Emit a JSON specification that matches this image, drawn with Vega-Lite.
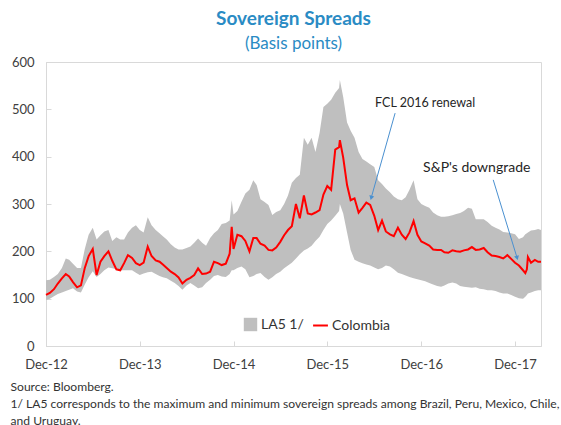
{
  "$schema": "https://vega.github.io/schema/vega-lite/v6.json",
  "width": 495,
  "height": 284,
  "autosize": {"type": "none"},
  "padding": {"left": 46, "top": 62, "right": 20, "bottom": 79},
  "background": "white",
  "config": {"font": "Lato", "view": {"stroke": "#D9D9D9", "strokeWidth": 1}},
  "title": {
    "text": "Sovereign Spreads",
    "subtitle": "(Basis points)",
    "anchor": "middle",
    "font": "Lato",
    "fontSize": 19,
    "fontWeight": "bold",
    "color": "#2A8BC4",
    "subtitleFont": "Lato",
    "subtitleFontSize": 17,
    "subtitleColor": "#2A8BC4",
    "offset": 4,
    "subtitlePadding": 7
  },
  "datasets": {
    "series": [
      {"date": "2012-12-01", "lo": 97, "hi": 139, "col": 108},
      {"date": "2012-12-16", "lo": 100, "hi": 140, "col": 112},
      {"date": "2013-01-01", "lo": 105, "hi": 146, "col": 120},
      {"date": "2013-01-16", "lo": 110, "hi": 152, "col": 132},
      {"date": "2013-02-01", "lo": 113, "hi": 165, "col": 143},
      {"date": "2013-02-16", "lo": 116, "hi": 185, "col": 152},
      {"date": "2013-03-01", "lo": 119, "hi": 182, "col": 147},
      {"date": "2013-03-16", "lo": 122, "hi": 174, "col": 135},
      {"date": "2013-04-01", "lo": 115, "hi": 165, "col": 124},
      {"date": "2013-04-16", "lo": 113, "hi": 165, "col": 128},
      {"date": "2013-05-01", "lo": 130, "hi": 205, "col": 165},
      {"date": "2013-05-16", "lo": 145, "hi": 235, "col": 190},
      {"date": "2013-06-01", "lo": 158, "hi": 250, "col": 205},
      {"date": "2013-06-16", "lo": 146, "hi": 225, "col": 150},
      {"date": "2013-07-01", "lo": 152, "hi": 234, "col": 178},
      {"date": "2013-07-16", "lo": 160, "hi": 242, "col": 190},
      {"date": "2013-08-01", "lo": 166, "hi": 245, "col": 200},
      {"date": "2013-08-16", "lo": 164, "hi": 222, "col": 180},
      {"date": "2013-09-01", "lo": 162, "hi": 230, "col": 162},
      {"date": "2013-09-16", "lo": 160, "hi": 225, "col": 160},
      {"date": "2013-10-01", "lo": 160, "hi": 225, "col": 175},
      {"date": "2013-10-16", "lo": 160, "hi": 240, "col": 192},
      {"date": "2013-11-01", "lo": 160, "hi": 250, "col": 186},
      {"date": "2013-11-16", "lo": 155, "hi": 255, "col": 175},
      {"date": "2013-12-01", "lo": 150, "hi": 245, "col": 171},
      {"date": "2013-12-16", "lo": 153, "hi": 240, "col": 176},
      {"date": "2014-01-01", "lo": 156, "hi": 272, "col": 210},
      {"date": "2014-01-16", "lo": 157, "hi": 255, "col": 190},
      {"date": "2014-02-01", "lo": 152, "hi": 245, "col": 181},
      {"date": "2014-02-16", "lo": 148, "hi": 238, "col": 178},
      {"date": "2014-03-01", "lo": 145, "hi": 232, "col": 172},
      {"date": "2014-03-16", "lo": 143, "hi": 225, "col": 165},
      {"date": "2014-04-01", "lo": 138, "hi": 215, "col": 157},
      {"date": "2014-04-16", "lo": 133, "hi": 208, "col": 152},
      {"date": "2014-05-01", "lo": 127, "hi": 204, "col": 145},
      {"date": "2014-05-16", "lo": 119, "hi": 204, "col": 132},
      {"date": "2014-06-01", "lo": 128, "hi": 207, "col": 140},
      {"date": "2014-06-16", "lo": 133, "hi": 210, "col": 144},
      {"date": "2014-07-01", "lo": 128, "hi": 218, "col": 150},
      {"date": "2014-07-16", "lo": 122, "hi": 227, "col": 164},
      {"date": "2014-08-01", "lo": 124, "hi": 218, "col": 152},
      {"date": "2014-08-16", "lo": 133, "hi": 212, "col": 153},
      {"date": "2014-09-01", "lo": 140, "hi": 228, "col": 157},
      {"date": "2014-09-16", "lo": 148, "hi": 238, "col": 178},
      {"date": "2014-10-01", "lo": 150, "hi": 245, "col": 175},
      {"date": "2014-10-16", "lo": 147, "hi": 258, "col": 171},
      {"date": "2014-11-01", "lo": 146, "hi": 260, "col": 174},
      {"date": "2014-11-16", "lo": 152, "hi": 265, "col": 195},
      {"date": "2014-11-24", "lo": 160, "hi": 308, "col": 252},
      {"date": "2014-12-01", "lo": 160, "hi": 278, "col": 205},
      {"date": "2014-12-16", "lo": 165, "hi": 285, "col": 235},
      {"date": "2015-01-01", "lo": 168, "hi": 305, "col": 232},
      {"date": "2015-01-16", "lo": 162, "hi": 322, "col": 222},
      {"date": "2015-02-01", "lo": 145, "hi": 330, "col": 200},
      {"date": "2015-02-16", "lo": 148, "hi": 350, "col": 228},
      {"date": "2015-03-01", "lo": 152, "hi": 340, "col": 228},
      {"date": "2015-03-16", "lo": 154, "hi": 310, "col": 216},
      {"date": "2015-04-01", "lo": 146, "hi": 304, "col": 212},
      {"date": "2015-04-16", "lo": 140, "hi": 298, "col": 203},
      {"date": "2015-05-01", "lo": 145, "hi": 277, "col": 202},
      {"date": "2015-05-16", "lo": 152, "hi": 283, "col": 208},
      {"date": "2015-06-01", "lo": 157, "hi": 287, "col": 220},
      {"date": "2015-06-16", "lo": 164, "hi": 300, "col": 234},
      {"date": "2015-07-01", "lo": 170, "hi": 318, "col": 245},
      {"date": "2015-07-16", "lo": 176, "hi": 345, "col": 253},
      {"date": "2015-08-01", "lo": 185, "hi": 355, "col": 300},
      {"date": "2015-08-16", "lo": 194, "hi": 362, "col": 270},
      {"date": "2015-09-01", "lo": 202, "hi": 440, "col": 318},
      {"date": "2015-09-16", "lo": 206, "hi": 425, "col": 280},
      {"date": "2015-10-01", "lo": 212, "hi": 440, "col": 278},
      {"date": "2015-10-16", "lo": 222, "hi": 410, "col": 282},
      {"date": "2015-11-01", "lo": 231, "hi": 450, "col": 287},
      {"date": "2015-11-16", "lo": 245, "hi": 505, "col": 320},
      {"date": "2015-12-01", "lo": 258, "hi": 512, "col": 338},
      {"date": "2015-12-16", "lo": 265, "hi": 520, "col": 330},
      {"date": "2016-01-01", "lo": 275, "hi": 535, "col": 415},
      {"date": "2016-01-16", "lo": 285, "hi": 545, "col": 420},
      {"date": "2016-01-19", "lo": 300, "hi": 562, "col": 435},
      {"date": "2016-02-01", "lo": 280, "hi": 526, "col": 398},
      {"date": "2016-02-16", "lo": 240, "hi": 472, "col": 340},
      {"date": "2016-03-01", "lo": 203, "hi": 455, "col": 308},
      {"date": "2016-03-16", "lo": 182, "hi": 440, "col": 312},
      {"date": "2016-04-01", "lo": 178, "hi": 410, "col": 282},
      {"date": "2016-04-16", "lo": 175, "hi": 395, "col": 292},
      {"date": "2016-05-01", "lo": 172, "hi": 390, "col": 303},
      {"date": "2016-05-16", "lo": 170, "hi": 384, "col": 298},
      {"date": "2016-06-01", "lo": 166, "hi": 378, "col": 275},
      {"date": "2016-06-16", "lo": 162, "hi": 350, "col": 245},
      {"date": "2016-07-01", "lo": 165, "hi": 342, "col": 265},
      {"date": "2016-07-16", "lo": 170, "hi": 333, "col": 242},
      {"date": "2016-08-01", "lo": 168, "hi": 325, "col": 236},
      {"date": "2016-08-16", "lo": 162, "hi": 316, "col": 232},
      {"date": "2016-09-01", "lo": 155, "hi": 310, "col": 250},
      {"date": "2016-09-16", "lo": 152, "hi": 308, "col": 235},
      {"date": "2016-10-01", "lo": 149, "hi": 314, "col": 226},
      {"date": "2016-10-16", "lo": 146, "hi": 330, "col": 240},
      {"date": "2016-11-01", "lo": 143, "hi": 350, "col": 264},
      {"date": "2016-11-16", "lo": 141, "hi": 310, "col": 235},
      {"date": "2016-12-01", "lo": 139, "hi": 300, "col": 221},
      {"date": "2016-12-16", "lo": 137, "hi": 296, "col": 217},
      {"date": "2017-01-01", "lo": 133, "hi": 292, "col": 212},
      {"date": "2017-01-16", "lo": 130, "hi": 282, "col": 204},
      {"date": "2017-02-01", "lo": 127, "hi": 276, "col": 203},
      {"date": "2017-02-16", "lo": 125, "hi": 273, "col": 203},
      {"date": "2017-03-01", "lo": 128, "hi": 273, "col": 198},
      {"date": "2017-03-16", "lo": 132, "hi": 274, "col": 197},
      {"date": "2017-04-01", "lo": 134, "hi": 276, "col": 202},
      {"date": "2017-04-16", "lo": 132, "hi": 279, "col": 200},
      {"date": "2017-05-01", "lo": 127, "hi": 281, "col": 199},
      {"date": "2017-05-16", "lo": 125, "hi": 285, "col": 202},
      {"date": "2017-06-01", "lo": 124, "hi": 292, "col": 204},
      {"date": "2017-06-16", "lo": 123, "hi": 290, "col": 209},
      {"date": "2017-07-01", "lo": 124, "hi": 268, "col": 203},
      {"date": "2017-07-16", "lo": 121, "hi": 268, "col": 204},
      {"date": "2017-08-01", "lo": 120, "hi": 268, "col": 207},
      {"date": "2017-08-16", "lo": 118, "hi": 262, "col": 198},
      {"date": "2017-09-01", "lo": 118, "hi": 254, "col": 191},
      {"date": "2017-09-16", "lo": 116, "hi": 250, "col": 190},
      {"date": "2017-10-01", "lo": 113, "hi": 246, "col": 188},
      {"date": "2017-10-16", "lo": 111, "hi": 241, "col": 185},
      {"date": "2017-11-01", "lo": 111, "hi": 240, "col": 192},
      {"date": "2017-11-16", "lo": 108, "hi": 238, "col": 184},
      {"date": "2017-12-01", "lo": 104, "hi": 236, "col": 176},
      {"date": "2017-12-16", "lo": 101, "hi": 226, "col": 170},
      {"date": "2018-01-01", "lo": 100, "hi": 230, "col": 160},
      {"date": "2018-01-10", "lo": 104, "hi": 236, "col": 154},
      {"date": "2018-01-16", "lo": 108, "hi": 238, "col": 162},
      {"date": "2018-01-20", "lo": 111, "hi": 240, "col": 188},
      {"date": "2018-02-01", "lo": 113, "hi": 244, "col": 176},
      {"date": "2018-02-16", "lo": 116, "hi": 245, "col": 182},
      {"date": "2018-03-01", "lo": 118, "hi": 247, "col": 178},
      {"date": "2018-03-12", "lo": 118, "hi": 245, "col": 178}
    ],
    "notes": [
      {"date": "2016-06-04", "value": 513, "label": "FCL 2016 renewal"},
      {"date": "2016-12-08", "value": 376, "label": "S&P's downgrade"}
    ],
    "arrows": [
      {"date": "2016-08-21", "value": 492, "date2": "2016-05-20", "value2": 313, "name": "FCL"},
      {"date": "2017-09-07", "value": 351, "date2": "2017-12-09", "value2": 186, "name": "SP"}
    ]
  },
  "layer": [
    {
      "data": {"name": "series"},
      "mark": {"type": "area", "opacity": 1},
      "encoding": {
        "x": {
          "field": "date",
          "type": "temporal",
          "scale": {"type": "utc", "domain": [{"year": 2012, "month": 12, "date": 1, "utc": true}, {"year": 2018, "month": 3, "date": 12, "utc": true}]},
          "axis": {
            "values": [
              {"year": 2012, "month": 12, "date": 1, "utc": true},
              {"year": 2013, "month": 12, "date": 1, "utc": true},
              {"year": 2014, "month": 12, "date": 1, "utc": true},
              {"year": 2015, "month": 12, "date": 1, "utc": true},
              {"year": 2016, "month": 12, "date": 1, "utc": true},
              {"year": 2017, "month": 12, "date": 1, "utc": true}
            ],
            "labelExpr": "utcFormat(datum.value, '%b-%y')",
            "labelFlush": false,
            "labelOverlap": false,
            "grid": false,
            "domainColor": "#D9D9D9",
            "tickColor": "#D9D9D9",
            "tickSize": -5,
            "labelPadding": 17,
            "labelFontSize": 13,
            "labelColor": "#404040",
            "labelFont": "Lato",
            "title": ["Source: Bloomberg.", "1/ LA5 corresponds to the maximum and minimum sovereign spreads among Brazil, Peru, Mexico, Chile,", "and Uruguay."],
            "titleFont": "Lato",
            "titleFontSize": 12.1,
            "titleFontWeight": "normal",
            "titleColor": "#333333",
            "titleAnchor": "start",
            "titleAlign": "left",
            "titleBaseline": "top",
            "titleX": -36,
            "titleY": 34,
            "titleLineHeight": 17.2
          }
        },
        "y": {
          "field": "hi",
          "type": "quantitative",
          "scale": {"domain": [0, 600]},
          "axis": {
            "values": [0, 100, 200, 300, 400, 500, 600],
            "grid": false,
            "domainColor": "#D9D9D9",
            "tickColor": "#D9D9D9",
            "tickSize": -5,
            "labelPadding": 17,
            "labelFontSize": 13,
            "labelColor": "#404040",
            "labelFont": "Lato",
            "title": null
          }
        },
        "y2": {"field": "lo"},
        "fill": {
          "datum": "LA5 1/",
          "type": "nominal",
          "scale": {"domain": ["LA5 1/"], "range": ["#BFBFBF"]},
          "legend": {
            "orient": "none",
            "legendX": 197,
            "legendY": 255,
            "title": null,
            "labelFont": "Lato",
            "labelFontSize": 14,
            "labelColor": "#333333",
            "symbolType": "square",
            "symbolSize": 180,
            "labelOffset": 3
          }
        }
      }
    },
    {
      "data": {"name": "series"},
      "mark": {"type": "line", "strokeWidth": 2},
      "encoding": {
        "x": {"field": "date", "type": "temporal"},
        "y": {"field": "col", "type": "quantitative"},
        "stroke": {
          "datum": "Colombia",
          "type": "nominal",
          "scale": {"domain": ["Colombia"], "range": ["#FF0000"]},
          "legend": {
            "orient": "none",
            "legendX": 266,
            "legendY": 255,
            "title": null,
            "labelFont": "Lato",
            "labelFontSize": 14,
            "labelColor": "#333333",
            "symbolType": "stroke",
            "symbolSize": 220,
            "symbolStrokeWidth": 2,
            "labelOffset": 3
          }
        }
      }
    },
    {
      "data": {"name": "arrows"},
      "mark": {"type": "rule", "color": "#4A90D0", "strokeWidth": 1},
      "encoding": {
        "x": {"field": "date", "type": "temporal"},
        "y": {"field": "value", "type": "quantitative"},
        "x2": {"field": "date2"},
        "y2": {"field": "value2"}
      }
    },
    {
      "data": {"name": "arrows"},
      "transform": [{"filter": "datum.name === 'FCL'"}],
      "mark": {"type": "point", "shape": "triangle-up", "filled": true, "color": "#4A90D0", "size": 25, "angle": 196, "opacity": 1},
      "encoding": {
        "x": {"field": "date2", "type": "temporal"},
        "y": {"field": "value2", "type": "quantitative"}
      }
    },
    {
      "data": {"name": "arrows"},
      "transform": [{"filter": "datum.name === 'SP'"}],
      "mark": {"type": "point", "shape": "triangle-up", "filled": true, "color": "#4A90D0", "size": 25, "angle": 163, "opacity": 1},
      "encoding": {
        "x": {"field": "date2", "type": "temporal"},
        "y": {"field": "value2", "type": "quantitative"}
      }
    },
    {
      "data": {"name": "notes"},
      "transform": [{"filter": "datum.label === 'FCL 2016 renewal'"}],
      "mark": {"type": "text", "align": "left", "baseline": "middle", "font": "Lato", "fontSize": 12.5, "color": "#262626"},
      "encoding": {
        "x": {"field": "date", "type": "temporal"},
        "y": {"field": "value", "type": "quantitative"},
        "text": {"field": "label"}
      }
    },
    {
      "data": {"name": "notes"},
      "transform": [{"filter": "datum.label === \"S&P's downgrade\""}],
      "mark": {"type": "text", "align": "left", "baseline": "middle", "font": "Lato", "fontSize": 14, "color": "#262626"},
      "encoding": {
        "x": {"field": "date", "type": "temporal"},
        "y": {"field": "value", "type": "quantitative"},
        "text": {"field": "label"}
      }
    }
  ]
}
